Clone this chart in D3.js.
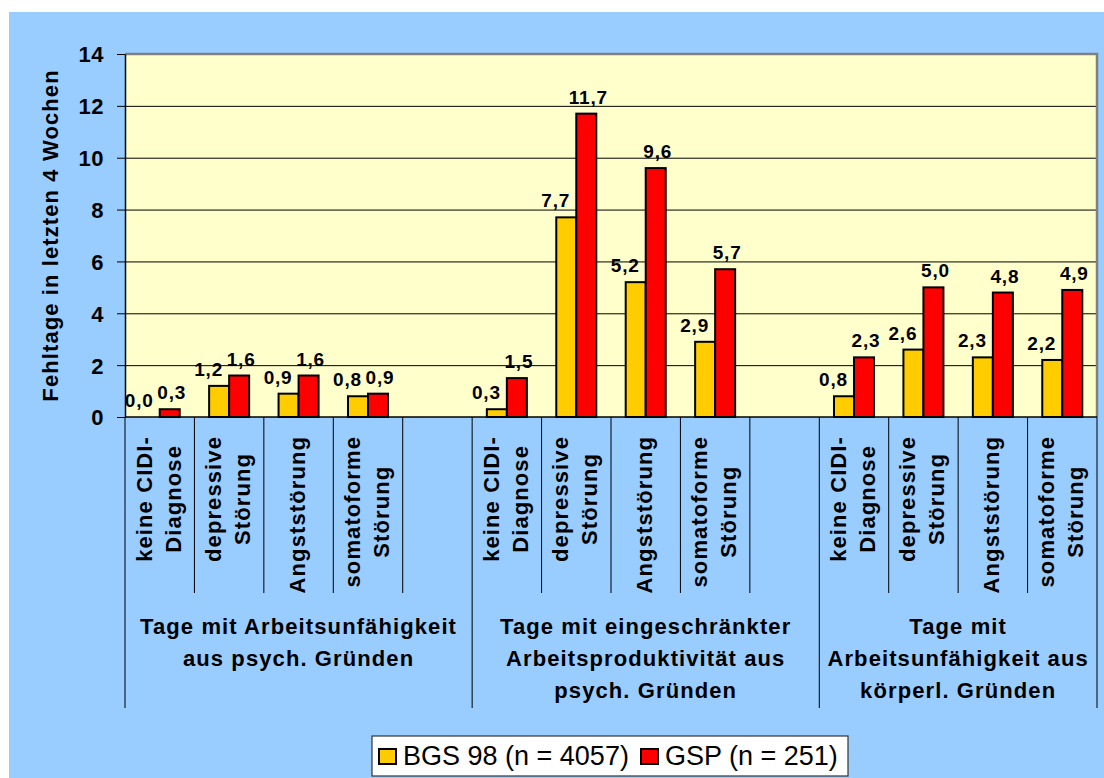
<html>
<head>
<meta charset="utf-8">
<title>Fehltage in letzten 4 Wochen</title>
<style>
  body { margin: 0; background: #fff; }
  text { font-family: "Liberation Sans", Arial, sans-serif; fill: #000; }
</style>
</head>
<body>
<svg id="svg"></svg>
<script src="https://d3js.org/d3.v7.min.js" charset="utf-8"></script>
<script>
// data
const groups = [
    "Tage mit Arbeitsunfähigkeit\naus psych. Gründen",
    "Tage mit eingeschränkter\nArbeitsproduktivität aus\npsych. Gründen",
    "Tage mit\nArbeitsunfähigkeit aus\nkörperl. Gründen"
];
const categories = ["keine CIDI-\nDiagnose", "depressive\nStörung", "Angststörung", "somatoforme\nStörung"];
const seriesNames = ["BGS 98 (n = 4057)", "GSP (n = 251)"];
const bgs98 = [0.0, 1.2, 0.9, 0.8,   0.3, 7.7, 5.2, 2.9,   0.8, 2.6, 2.3, 2.2];
const gsp   = [0.3, 1.6, 1.6, 0.9,   1.5, 11.7, 9.6, 5.7,  2.3, 5.0, 4.8, 4.9];
const yTicks = [0, 2, 4, 6, 8, 10, 12, 14];
const yTitle = "Fehltage in letzten 4 Wochen";

const colors = ["#FFCC00", "#FF0000"];
const W = 1104, H = 778;
const plotLeft = 125, plotRight = 1097, plotTop = 54, plotBottom = 417;
const font = "'Liberation Sans', Arial, sans-serif";
const labelSize = "22px", labelSpacing = "1.1px";

// slots: 4 categories per group, an empty slot between groups
const slots = [];
groups.forEach(function(g, gi) {
    categories.forEach(function(c, ci) {
        slots.push({key: gi + "-" + ci, group: gi, cat: c, idx: gi * categories.length + ci});
    });
    if (gi < groups.length - 1) slots.push({key: gi + "-gap", group: gi, cat: null, idx: null});
});

const svg = d3.select("#svg").attr("width", W).attr("height", H);

svg.append("rect").attr("x", 9).attr("y", 12).attr("width", W - 9).attr("height", H - 12)
    .attr("fill", "#99CCFF");

svg.append("rect").attr("x", plotLeft).attr("y", plotTop)
    .attr("width", plotRight - plotLeft).attr("height", plotBottom - plotTop)
    .attr("fill", "#FFFFCC");

const x0 = d3.scaleBand().domain(slots.map(d => d.key)).range([plotLeft, plotRight]);
const x1 = d3.scaleBand().domain([0, 1]).range([0, x0.bandwidth()]).paddingOuter(0.735);
const y = d3.scaleLinear().domain([0, 14]).range([plotBottom, plotTop]);

// gridlines
svg.append("g")
    .attr("transform", "translate(" + plotLeft + ",0)")
    .call(d3.axisLeft(y).tickValues(yTicks.filter(t => t > 0 && t < 14)).tickSize(-(plotRight - plotLeft)).tickFormat(""))
    .call(g => g.select(".domain").remove())
    .selectAll("line").attr("stroke", "#000").attr("stroke-width", 1);

// plot border top/right
svg.append("path")
    .attr("d", "M" + plotLeft + "," + plotTop + "H" + plotRight + "V" + plotBottom)
    .attr("fill", "none").attr("stroke", "#808080").attr("stroke-width", 2.5);

// bars
const barData = [];
slots.forEach(function(s) {
    if (s.idx === null) return;
    [bgs98, gsp].forEach(function(arr, si) {
        barData.push({slot: s.key, series: si, value: arr[s.idx]});
    });
});

svg.append("g").selectAll("rect")
    .data(barData.filter(d => d.value > 0))
    .enter().append("rect")
    .attr("x", d => x0(d.slot) + x1(d.series))
    .attr("y", d => y(d.value))
    .attr("width", x1.bandwidth())
    .attr("height", d => y(0) - y(d.value))
    .attr("fill", d => colors[d.series])
    .attr("stroke", "#000")
    .attr("stroke-width", 2);

// value labels
svg.append("g").selectAll("text")
    .data(barData)
    .enter().append("text")
    .attr("x", d => x0(d.slot) + x1(d.series) + x1.bandwidth() / 2 + (d.series === 0 ? -10.5 : 2))
    .attr("y", d => y(d.value) - 10)
    .attr("text-anchor", "middle")
    .style("font-size", "19px")
    .style("font-weight", "bold")
    .style("letter-spacing", "0.8px")
    .text(d => d.value.toFixed(1).replace(".", ","));

// y axis
const yAxis = svg.append("g")
    .attr("transform", "translate(" + plotLeft + ",0)")
    .call(d3.axisLeft(y).tickValues(yTicks).tickSize(8).tickSizeOuter(0).tickPadding(13).tickFormat(d3.format("d")));
yAxis.select(".domain").attr("stroke", "#000").attr("stroke-width", 1.5);
yAxis.selectAll("line").attr("stroke", "#000");
yAxis.selectAll("text")
    .attr("dy", "0.36em")
    .style("font-family", font)
    .style("font-size", labelSize)
    .style("font-weight", "bold")
    .style("letter-spacing", "0.5px");

svg.append("text")
    .attr("transform", "translate(58," + ((plotTop + plotBottom) / 2) + ")rotate(-90)")
    .attr("text-anchor", "middle")
    .style("font-size", labelSize)
    .style("font-weight", "bold")
    .style("letter-spacing", labelSpacing)
    .text(yTitle);

// category axis line
svg.append("line")
    .attr("x1", plotLeft).attr("x2", plotRight).attr("y1", plotBottom).attr("y2", plotBottom)
    .attr("stroke", "#000").attr("stroke-width", 1.5);

// slot separators and group separators
const groupStarts = groups.map((g, gi) => x0(slots.find(s => s.group === gi).key));
const boundaries = slots.map(s => x0(s.key)).concat([plotRight]);
svg.append("g").selectAll("line")
    .data(boundaries)
    .enter().append("line")
    .attr("x1", d => d).attr("x2", d => d)
    .attr("y1", plotBottom)
    .attr("y2", d => (groupStarts.some(g => Math.abs(g - d) < 0.5) || d === plotRight) ? 708 : 593)
    .attr("stroke", "#000").attr("stroke-width", 1);

// rotated category labels
const lineGap = 29;
slots.filter(s => s.cat).forEach(function(s) {
    const lines = s.cat.split("\n");
    const g = svg.append("g")
        .attr("transform", "translate(" + (x0(s.key) + x0.bandwidth() / 2) + ",436)rotate(-90)");
    const ts = g.selectAll("text").data(lines).enter().append("text")
        .attr("text-anchor", "middle")
        .attr("y", (d, i) => (i - (lines.length - 1) / 2) * lineGap + 6.5)
        .style("font-size", labelSize)
        .style("font-weight", "bold")
        .style("letter-spacing", labelSpacing)
        .text(d => d);
    const maxW = d3.max(ts.nodes(), n => n.getComputedTextLength());
    ts.attr("x", -maxW / 2);
});

// group labels
groups.forEach(function(label, gi) {
    const x = (groupStarts[gi] + (gi < groups.length - 1 ? groupStarts[gi + 1] : plotRight)) / 2;
    svg.append("g").selectAll("text")
        .data(label.split("\n"))
        .enter().append("text")
        .attr("x", x)
        .attr("y", (d, i) => 634 + i * 32)
        .attr("text-anchor", "middle")
        .style("font-size", labelSize)
        .style("font-weight", "bold")
        .style("letter-spacing", labelSpacing)
        .text(d => d);
});

// legend
const legend = svg.append("g");
legend.append("rect")
    .attr("x", 372).attr("y", 736).attr("width", 476).attr("height", 40)
    .attr("fill", "#fff").attr("stroke", "#333").attr("stroke-width", 1.2);
const legendX = [379, 641];
seriesNames.forEach(function(name, i) {
    legend.append("rect")
        .attr("x", legendX[i]).attr("y", 749).attr("width", 17).attr("height", 15)
        .attr("fill", colors[i]).attr("stroke", "#000").attr("stroke-width", 2);
    legend.append("text")
        .attr("x", legendX[i] + 24).attr("y", 765)
        .style("font-size", "27px")
        .text(name);
});
</script>
</body>
</html>
